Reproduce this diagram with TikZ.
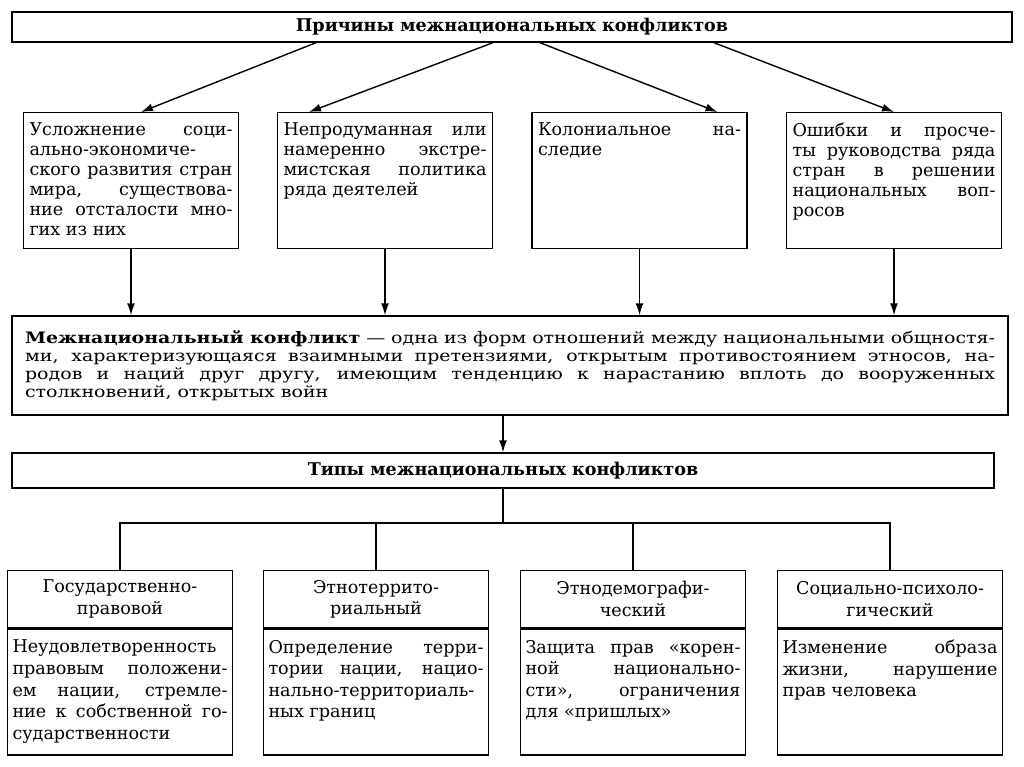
\documentclass[tikz,border=0pt]{standalone}
\usepackage{fontspec}
\setmainfont{DejaVu Serif}
\newfontfamily\widefont[FakeStretch=1.2]{DejaVu Serif}
\usetikzlibrary{arrows.meta,positioning,calc}
\lineskiplimit=-5pt
% top-aligned justified cell text
\newcommand{\celltext}[3]{\parbox[c][#1][t]{#2}{#3}}

\begin{document}
\begin{tikzpicture}[x=0.02cm, y=-0.02cm,
    box/.style={draw, line width=0.8pt},
    arr/.style={line width=0.8pt, -{Latex[length=2.4mm,width=1.6mm]}},
    title/.style={box, font=\bfseries\fontsize{10}{12}\selectfont},
    cause/.style={box, inner xsep=0.12cm, inner ysep=0.2cm, font=\fontsize{10}{11.4}\selectfont},
    kind/.style={box, minimum width=4.5cm, minimum height=1.14cm, text width=4.3cm,
        align=center, inner sep=0pt, font=\fontsize{10}{12.3}\selectfont},
    kindtext/.style={box, inner xsep=0.1cm, inner ysep=0.22cm, font=\fontsize{10}{12.3}\selectfont}]
    \useasboundingbox (0,0) rectangle (1024,767);
    % Causes
    \node[title, minimum width=20cm, minimum height=0.6cm] (top) at (512,27) {Причины межнациональных конфликтов};
    \node[cause, anchor=north] (c1) at (131,112) {\celltext{2.32cm}{4.06cm}{Усложнение соци-\linebreak ально-экономиче-\linebreak ского развития стран\linebreak мира, существова-\linebreak ние отсталости мно-\linebreak гих из них}};
    \node[cause, anchor=north] (c2) at (385,112) {\celltext{2.32cm}{4.06cm}{Непродуманная или\linebreak намеренно экстре-\linebreak мистская политика\linebreak ряда деятелей}};
    \node[cause, anchor=north] (c3) at (639.5,112) {\celltext{2.32cm}{4.06cm}{Колониальное на-\linebreak следие}};
    \node[cause, anchor=north] (c4) at (894,112) {\celltext{2.32cm}{4.06cm}{Ошибки и просче-\linebreak ты руководства ряда\linebreak стран в решении\linebreak национальных воп-\linebreak росов}};
    \draw[arr] ($(top.south)+(-196,0)$) -- ($(c1.north)+(10,0)$);
    \draw[arr] ($(top.south)+(-19,0)$) -- ($(c2.north)+(-76,0)$);
    \draw[arr] ($(top.south)+(28,0)$) -- ($(c3.north)+(78,0)$);
    \draw[arr] ($(top.south)+(202,0)$) -- (c4.north);
    % Definition
    \node[box, minimum width=19.92cm, minimum height=1.98cm, text width=19.4cm, align=justify,
        inner xsep=0.26cm, font=\widefont\fontsize{9}{10.2}\selectfont] (mid) at (510,365.5)
        {\textbf{Межнациональный конфликт} — одна из форм отношений между национальными общностя-\linebreak
        ми, характеризующаяся взаимными претензиями, открытым противостоянием этносов, на-\linebreak
        родов и наций друг другу, имеющим тенденцию к нарастанию вплоть до вооруженных\linebreak
        столкновений, открытых войн};
    \draw[arr] (c1.south) -- (c1.south |- mid.north);
    \draw[arr] (c2.south) -- (c2.south |- mid.north);
    \draw[arr] (c3.south) -- (c3.south |- mid.north);
    \draw[arr] (c4.south) -- (c4.south |- mid.north);
    % Types
    \node[title, minimum width=19.64cm, minimum height=0.7cm] (types) at (503,470.5) {Типы межнациональных конфликтов};
    \draw[arr] (types.north |- mid.south) -- (types.north);
    \node[kind, anchor=north] (k1) at (120,570) {Государственно-\\правовой};
    \node[kind, anchor=north] (k2) at (376,570) {Этнотеррито-\\риальный};
    \node[kind, anchor=north] (k3) at (633,570) {Этнодемографи-\\ческий};
    \node[kind, anchor=north] (k4) at (890,570) {Социально-психоло-\\гический};
    \node[kindtext, anchor=north] (d1) at (k1.south) {\celltext{2.08cm}{4.3cm}{Неудовлетворенность\linebreak правовым положени-\linebreak ем нации, стремле-\linebreak ние к собственной го-\linebreak сударственности}};
    \node[kindtext, anchor=north] (d2) at (k2.south) {\celltext{2.08cm}{4.3cm}{Определение терри-\linebreak тории нации, нацио-\linebreak нально-территориаль-\linebreak ных границ}};
    \node[kindtext, anchor=north] (d3) at (k3.south) {\celltext{2.08cm}{4.3cm}{Защита прав «корен-\linebreak ной национально-\linebreak сти», ограничения\linebreak для «пришлых»}};
    \node[kindtext, anchor=north] (d4) at (k4.south) {\celltext{2.08cm}{4.3cm}{Изменение образа\linebreak жизни, нарушение\linebreak прав человека}};
    % Tree
    \coordinate (bus) at (503,523);
    \draw[box] (types.south) -- (bus);
    \draw[box] (k1.north) -- (k1.north |- bus) -- (k4.north |- bus) -- (k4.north);
    \draw[box] (k2.north) -- (k2.north |- bus);
    \draw[box] (k3.north) -- (k3.north |- bus);
\end{tikzpicture}
\end{document}
